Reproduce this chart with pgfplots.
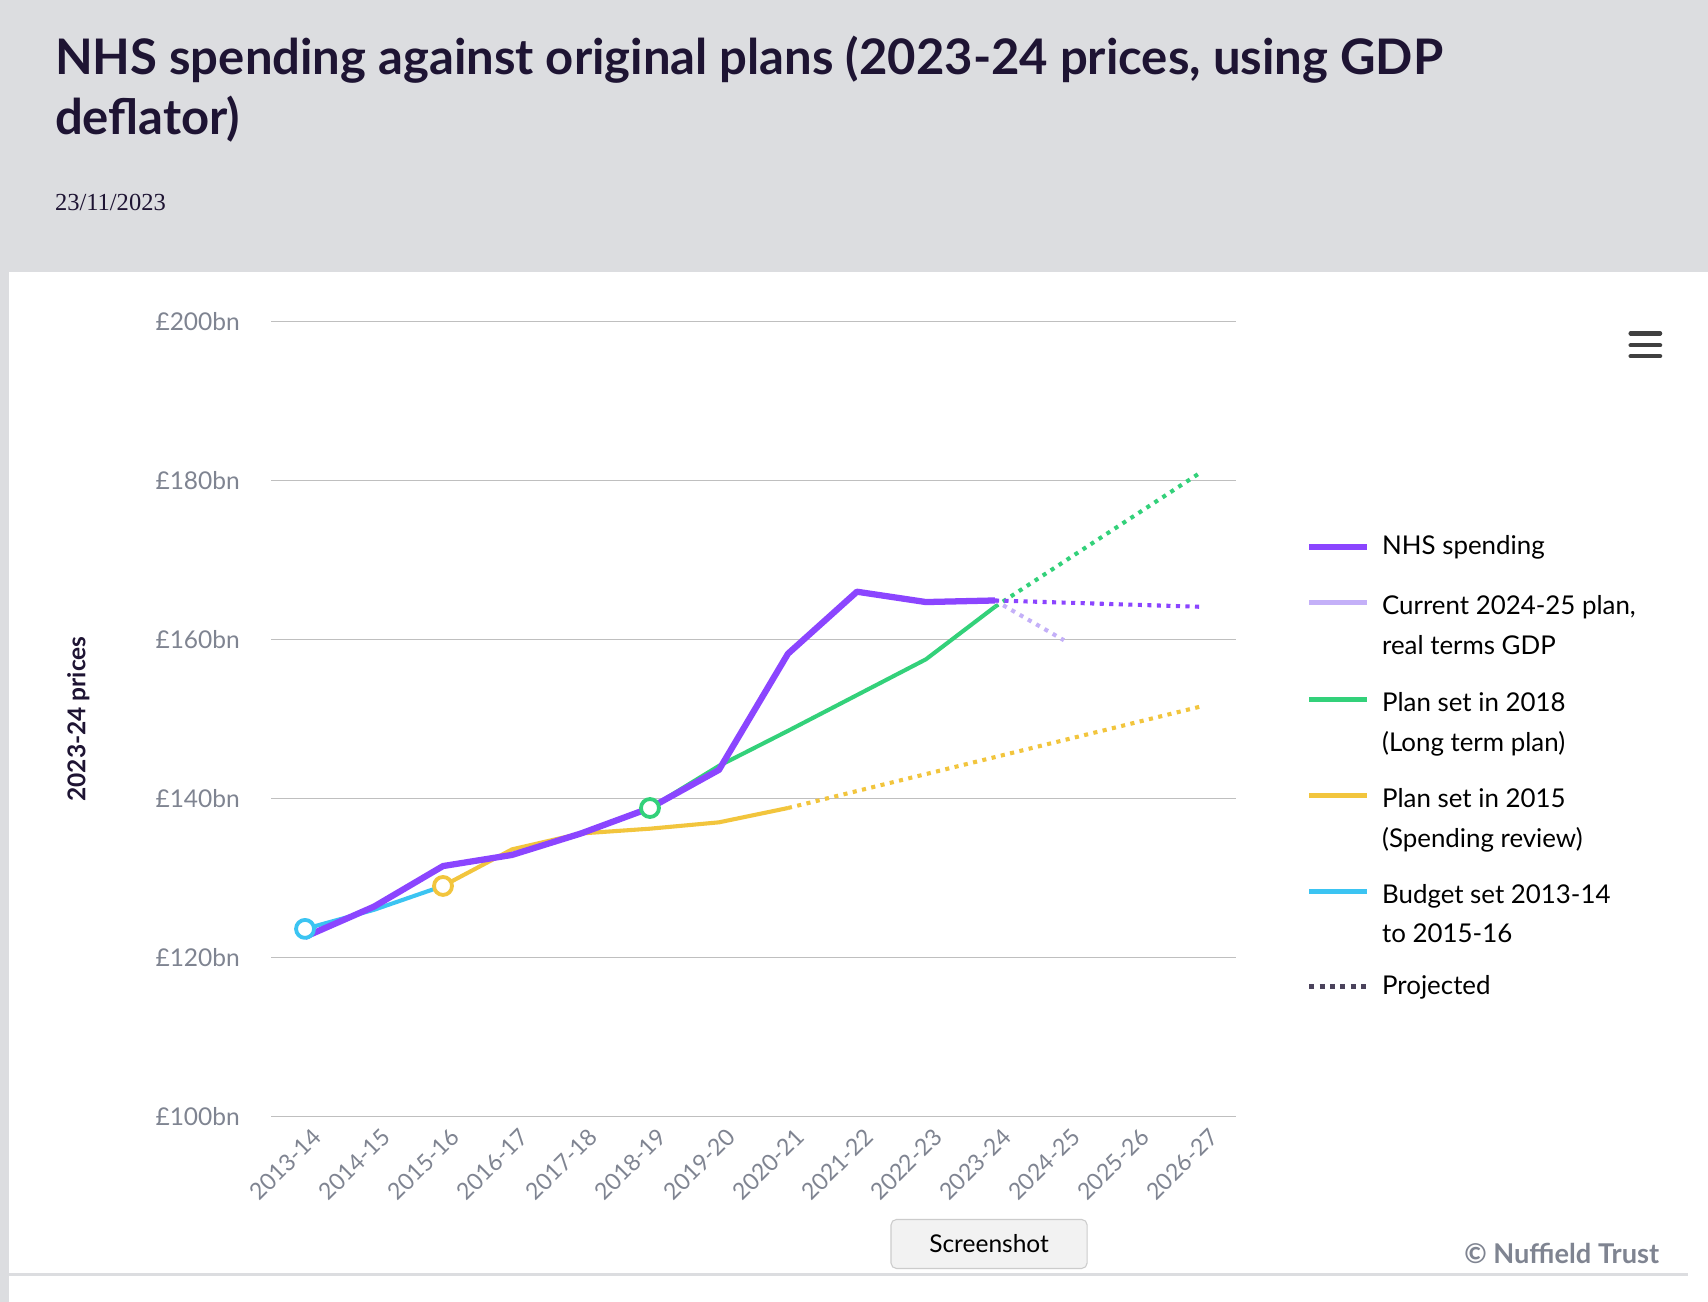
\documentclass[border=0pt]{standalone}
\usepackage{pgfplots}
\pgfplotsset{compat=1.18}
\usepackage{fontspec}
\setmainfont{Lato}
\newfontfamily\serif{Liberation Serif}
\definecolor{hdr}{HTML}{DCDDE0}
\definecolor{ttl}{HTML}{1E1433}
\definecolor{pur}{HTML}{8B45FF}
\definecolor{lpur}{HTML}{C4B0F8}
\definecolor{grn}{HTML}{33D17A}
\definecolor{yel}{HTML}{F2C53D}
\definecolor{cya}{HTML}{3BC4F2}
\definecolor{tick}{HTML}{7F8491}
\definecolor{grid}{HTML}{6E737D}
\begin{document}
\begin{tikzpicture}
\begin{scope}[x=0.4pt,y=-0.4pt]
\fill[white] (0,0) rectangle (1568,1195);
\fill[hdr] (0,0) rectangle (1568,250);
\fill[hdr] (0,0) rectangle (8,1195);
\draw[hdr,line width=0.8pt] (8,1170) -- (1550,1170);
\node[anchor=north west,inner sep=0pt,text=ttl,font=\fontsize{18}{22}\selectfont\bfseries,align=left] at (50,33) {NHS spending against original plans (2023-24 prices, using GDP\\deflator)};
\node[anchor=west,inner sep=0pt,text=ttl,font=\serif\fontsize{9}{11}\selectfont] at (50,186) {23/11/2023};
\node[rotate=90,text=ttl,font=\fontsize{9}{11}\selectfont\bfseries] at (72,660) {2023-24 prices};
\foreach \yy in {306,317,327} \draw[line width=1.6pt,color=black!75,line cap=round] (1497,\yy) -- (1524,\yy);
\node[anchor=east,text=tick,font=\fontsize{10}{12}\selectfont\bfseries] at (1532,1151) {© Nuffield Trust};
\node[draw=black!20,fill=black!5,rounded corners=2pt,minimum width=72pt,minimum height=18pt,font=\fontsize{9}{11}\selectfont] at (908,1142) {Screenshot};
\begin{scope}[font=\fontsize{9.5}{14.5}\selectfont]
\draw[pur,line width=2.4pt] (1202,502)--(1255,502);
\node[anchor=west] at (1260,502) {NHS spending};
\draw[lpur,line width=1.8pt] (1202,553)--(1255,553);
\node[anchor=north west,align=left] at (1260,538) {Current 2024-25 plan,\\real terms GDP};
\draw[grn,line width=1.8pt] (1202,642)--(1255,642);
\node[anchor=north west,align=left] at (1260,627) {Plan set in 2018\\(Long term plan)};
\draw[yel,line width=1.8pt] (1202,730)--(1255,730);
\node[anchor=north west,align=left] at (1260,715) {Plan set in 2015\\(Spending review)};
\draw[cya,line width=1.8pt] (1202,818)--(1255,818);
\node[anchor=north west,align=left] at (1260,803) {Budget set 2013-14\\to 2015-16};
\draw[ttl!80,line width=1.8pt,dotted] (1202,906)--(1255,906);
\node[anchor=west] at (1260,906) {Projected};
\end{scope}
\end{scope}
\begin{axis}[at={(99.6pt,-410pt)},anchor=south west,scale only axis,
  width=354.4pt,height=292pt,xmin=-0.49,xmax=13.5,ymin=100,ymax=200,
  axis line style={draw=none},major tick length=0pt,
  xmajorgrids=false,ymajorgrids=true,grid style={grid,line width=0.6pt},
  ytick={100,120,...,200},yticklabel={\pounds\pgfmathprintnumber{\tick}bn},
  yticklabel style={text=tick,font=\fontsize{9}{11}\selectfont,xshift=-8pt},
  /pgf/number format/assume math mode=true,
  xtick={0,...,13},
  xticklabels={2013-14,2014-15,2015-16,2016-17,2017-18,2018-19,2019-20,2020-21,2021-22,2022-23,2023-24,2024-25,2025-26,2026-27},
  xticklabel style={rotate=45,anchor=north east,inner sep=1pt,text=tick,font=\fontsize{8.5}{10}\selectfont,yshift=-3pt},
  every axis plot/.append style={line join=round}]
\addplot[cya,line width=1.5pt] coordinates {(0,123.6)(1,126.0)(2,129.0)};
\addplot[yel,line width=1.5pt] coordinates {(2,129.0)(3,133.6)(4,135.6)(5,136.2)(6,137.0)(7,138.8)};
\addplot[yel,line width=1.5pt,dotted] coordinates {(7,138.8)(13,151.6)};
\addplot[grn,line width=1.5pt] coordinates {(5,138.8)(6,144.1)(7,148.5)(8,153.0)(9,157.5)(10,164.1)};
\addplot[grn,line width=1.5pt,dotted] coordinates {(10,164.1)(13,181.1)};
\addplot[lpur,line width=1.5pt,dotted] coordinates {(10,164.9)(11,159.9)};
\addplot[pur,line width=2.3pt] coordinates {(0,122.6)(1,126.4)(2,131.5)(3,132.9)(4,135.6)(5,138.8)(6,143.6)(7,158.2)(8,166.0)(9,164.7)(10,164.9)};
\addplot[pur,line width=1.5pt,dotted] coordinates {(10,164.9)(13,164.1)};
\addplot[cya,only marks,mark=*,mark size=3.3pt,mark options={fill=white,line width=1.4pt}] coordinates {(0,123.6)};
\addplot[yel,only marks,mark=*,mark size=3.3pt,mark options={fill=white,line width=1.4pt}] coordinates {(2,129.0)};
\addplot[grn,only marks,mark=*,mark size=3.3pt,mark options={fill=white,line width=1.4pt}] coordinates {(5,138.8)};
\end{axis}
\end{tikzpicture}
\end{document}
